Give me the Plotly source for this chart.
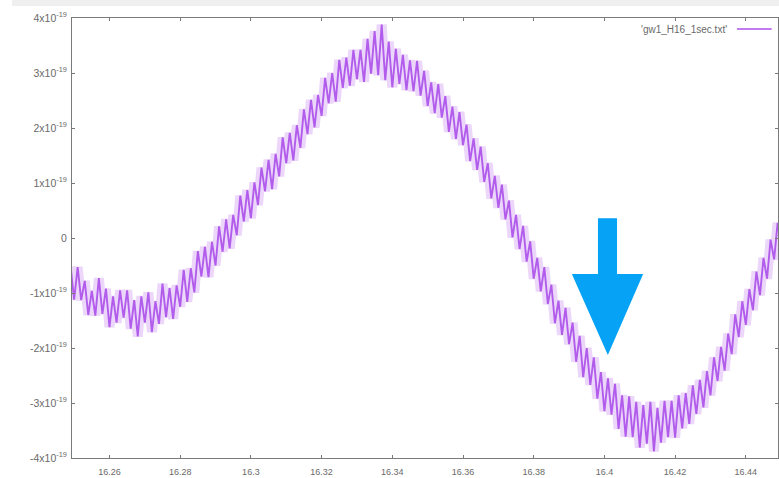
import numpy as np
import plotly.graph_objects as go

# ---- data ----
x_start = 16.249
x_step = 0.001
# signal values in units of 1e-19, one per sample
y_e19 = [
    -0.52, -1.12, -0.53, -1.13, -0.78, -1.40, -0.96, -1.41, -0.73, -1.38,
    -0.92, -1.62, -1.06, -1.54, -0.95, -1.45, -0.95, -1.65, -1.13, -1.79,
    -1.06, -1.54, -0.99, -1.71, -1.15, -1.56, -0.83, -1.44, -0.91, -1.47,
    -0.86, -1.25, -0.58, -1.16, -0.55, -0.99, -0.24, -0.70, -0.16, -0.71,
    -0.07, -0.50, 0.21, -0.25, 0.34, -0.19, 0.42, 0.05, 0.77, 0.30,
    0.87, 0.36, 1.01, 0.60, 1.28, 0.85, 1.42, 0.89, 1.53, 1.12,
    1.83, 1.36, 1.91, 1.41, 2.05, 1.64, 2.34, 1.89, 2.51, 2.01,
    2.60, 2.22, 2.91, 2.45, 3.00, 2.48, 3.24, 2.73, 3.28, 2.77,
    3.42, 2.89, 3.42, 2.84, 3.62, 2.99, 3.76, 2.96, 3.88, 2.87,
    3.57, 2.74, 3.44, 2.80, 3.33, 2.69, 3.23, 2.67, 3.22, 2.59,
    3.04, 2.40, 2.83, 2.27, 2.80, 2.19, 2.58, 1.93, 2.39, 1.80,
    2.29, 1.69, 2.06, 1.40, 1.81, 1.24, 1.66, 1.02, 1.36, 0.72,
    1.13, 0.55, 0.97, 0.34, 0.68, 0.01, 0.42, -0.20, 0.22, -0.43,
    -0.06, -0.74, -0.36, -0.97, -0.53, -1.20, -0.85, -1.55, -1.14, -1.76,
    -1.27, -1.93, -1.54, -2.25, -1.78, -2.53, -2.00, -2.67, -2.17, -2.92,
    -2.44, -3.15, -2.55, -3.21, -2.65, -3.47, -2.86, -3.61, -2.88, -3.62,
    -2.98, -3.81, -3.04, -3.74, -2.98, -3.88, -3.09, -3.72, -2.96, -3.62,
    -2.96, -3.63, -2.86, -3.46, -2.82, -3.38, -2.68, -3.20, -2.58, -3.08,
    -2.42, -2.86, -2.17, -2.60, -1.98, -2.41, -1.74, -2.11, -1.39, -1.80,
    -1.15, -1.58, -0.93, -1.31, -0.61, -1.04, -0.36, -0.74, -0.03, -0.39,
    0.28,
]
series_name = "'gw1_H16_1sec.txt'"

x_ticks = [16.26, 16.28, 16.30, 16.32, 16.34, 16.36, 16.38, 16.40, 16.42, 16.44]
x_tick_labels = ["16.26", "16.28", "16.3", "16.32", "16.34", "16.36", "16.38", "16.4", "16.42", "16.44"]
y_tick_mult = [-4, -3, -2, -1, 0, 1, 2, 3, 4]
y_tick_labels = [("0" if m == 0 else f"{m}x10<sup>-19</sup>") for m in y_tick_mult]

x = np.round(x_start + x_step * np.arange(len(y_e19)), 4)
y = np.array(y_e19) * 1e-19

TXT = "#6a6a6a"
FONT = "Liberation Sans, Arial, sans-serif"

fig = go.Figure()
# soft halo (the screenshot is blurred) under the actual line
fig.add_trace(go.Scatter(x=x, y=y, mode="lines", name=series_name, hoverinfo="skip",
                         line=dict(color="rgba(185, 110, 240, 0.28)", width=10), showlegend=False))
fig.add_trace(go.Scatter(x=x, y=y, mode="lines", name=series_name,
                         line=dict(color="rgba(155, 45, 230, 0.72)", width=1.9), showlegend=False))

axis_common = dict(showline=True, linecolor="#7a7a7a", linewidth=1, mirror="ticks",
                   ticks="inside", ticklen=3, tickcolor="#7a7a7a", showgrid=False,
                   zeroline=False)
fig.update_xaxes(range=[16.2494, 16.4491], tickvals=x_ticks, ticktext=x_tick_labels,
                 ticklabelstandoff=5, tickfont=dict(family=FONT, size=9, color=TXT), **axis_common)
fig.update_yaxes(range=[-4e-19, 4e-19], tickvals=[m * 1e-19 for m in y_tick_mult],
                 ticktext=y_tick_labels, ticklabelstandoff=2,
                 tickfont=dict(family=FONT, size=10.5, color=TXT), **axis_common)

# legend key (gnuplot style: text left of the sample)
fig.add_annotation(xref="paper", yref="paper", x=0.930, y=0.975, xanchor="right", yanchor="middle",
                   text=series_name, showarrow=False, font=dict(family=FONT, size=10, color=TXT))
fig.add_shape(type="line", xref="paper", yref="paper", x0=0.942, x1=0.991, y0=0.975, y1=0.975,
              line=dict(color="rgba(175, 90, 235, 0.8)", width=2))

# light grey strip at the very top of the screenshot
fig.add_shape(type="rect", xref="paper", yref="paper", x0=-0.085, x1=1.01, y0=1.027, y1=1.045,
              fillcolor="#efefef", line=dict(width=0), layer="below")

# blue arrow annotation
fig.add_shape(type="path", xref="paper", yref="paper",
              path="M 0.745 0.545 L 0.772 0.545 L 0.772 0.418 L 0.809 0.418 L 0.759 0.234 "
                   "L 0.708 0.418 L 0.745 0.418 Z",
              fillcolor="#05a2f5", line=dict(width=0))

fig.update_layout(width=779, height=478, margin=dict(l=72, r=1, t=18, b=20),
                  paper_bgcolor="white", plot_bgcolor="white")

fig.write_html("out.html")
